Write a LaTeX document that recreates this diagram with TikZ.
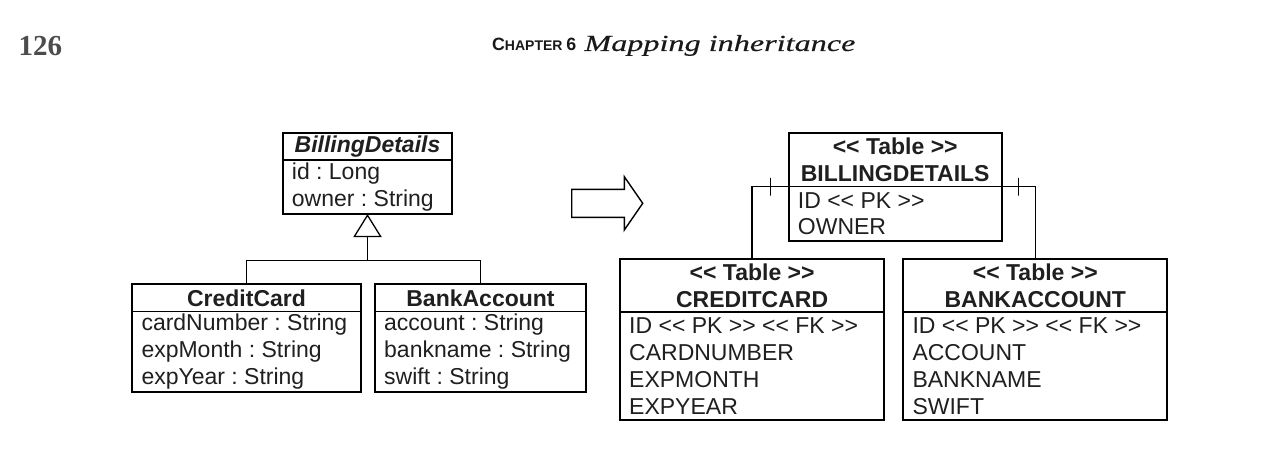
\documentclass[tikz,border=0pt]{standalone}
\usepackage{fontspec}
\setmainfont{Liberation Sans}[Ligatures=TeXOff]
\newfontfamily\folio{Liberation Serif}
\newfontfamily\runtitle[FakeStretch=1.4,FakeBold=0.4]{Liberation Serif}
\usepackage{tikz}
\usetikzlibrary{arrows.meta,positioning,calc}
\frenchspacing

\begin{document}
\begin{tikzpicture}[x=0.5pt,y=-0.5pt,>=Stealth,
  hd/.style={draw,line width=0.65pt,anchor=north west,inner sep=0pt,outer sep=0pt,align=center,
    text=black!88,font=\fontsize{11.5}{13.4}\selectfont\bfseries},
  bd/.style={anchor=north west,inner xsep=4.6pt,inner ysep=0pt,outer sep=0pt,align=left,
    text=black!88,font=\fontsize{11.5}{13.4}\selectfont},
  frame/.style={line width=1pt},
  conn/.style={line width=0.7pt},
  tick/.style={draw,line width=0.5pt,inner sep=0pt,outer sep=0pt,minimum width=0pt,minimum height=8.9pt},
  gen/.style={line width=0.65pt,-{Triangle[open,length=11.6pt,width=14.2pt]}}]
  \useasboundingbox (0,0) rectangle (1278,449);
  % running head
  \node[anchor=base west,inner sep=0pt,text=black!70,font=\folio\bfseries\fontsize{14.5}{16}\selectfont](folio) at (18.3,56){126};
  \node[anchor=base west,inner sep=0pt,text=black!90,font=\bfseries](chap) at (491.7,51){\fontsize{8.9}{10}\selectfont C\fontsize{7}{8}\selectfont HAPTER \fontsize{8.9}{10}\selectfont 6};
  \node[anchor=base west,inner sep=0pt,text=black!90,font=\runtitle\itshape\fontsize{11.5}{13}\selectfont](runhead) at (584,51){Mapping inheritance};
  % class diagram
  \begin{scope}
   \node[hd,minimum width=84.8pt,minimum height=13.65pt](lbdh) at (282.7,132.7){\textit{BillingDetails}};
   \node[bd,minimum height=27pt](lbdb) at (lbdh.south west){id : Long\\owner : String};
   \draw[frame](lbdh.north west) rectangle (lbdh.east |- lbdb.south);
   \node[hd,minimum width=114.2pt,minimum height=13.7pt](lcch) at (132.3,284.3){CreditCard};
   \node[bd,minimum height=40pt](lccb) at (lcch.south west){cardNumber : String\\expMonth : String\\expYear : String};
   \draw[frame](lcch.north west) rectangle (lcch.east |- lccb.south);
   \node[hd,minimum width=105.5pt,minimum height=13.7pt](lbah) at (375,284.3){BankAccount};
   \node[bd,minimum height=40pt](lbab) at (lbah.south west){account : String\\bankname : String\\swift : String};
   \draw[frame](lbah.north west) rectangle (lbah.east |- lbab.south);
   \coordinate(jn) at (lbdh.south |- 0,260.7);
   \draw[conn](lcch.north) |- (jn) -| (lbah.north);
   \draw[gen](jn) -- (lbdh.south |- lbdb.south);
  \end{scope}
  % mapping arrow
  \draw[conn](571.7,189.3) -- (624.3,189.3) -- (624.3,176.7) -- (642.7,203.3) -- (624.3,230) -- (624.3,217.3) -- (571.7,217.3) -- cycle;
  % tables
  \begin{scope}
   \node[hd,minimum width=106.5pt,minimum height=27pt](rbdh) at (788.7,132.7){<< Table >>\\BILLINGDETAILS};
   \node[bd,minimum height=27pt](rbdb) at (rbdh.south west){ID << PK >>\\OWNER};
   \draw[frame](rbdh.north west) rectangle (rbdh.east |- rbdb.south);
   \node[hd,minimum width=132.15pt,minimum height=26.35pt](rcch) at (620,259.3){<< Table >>\\CREDITCARD};
   \node[bd,minimum height=54pt](rccb) at (rcch.south west){ID << PK >> << FK >>\\CARDNUMBER\\EXPMONTH\\EXPYEAR};
   \draw[frame](rcch.north west) rectangle (rcch.east |- rccb.south);
   \node[hd,minimum width=132pt,minimum height=26.35pt](rbah) at (903.3,259.3){<< Table >>\\BANKACCOUNT};
   \node[bd,minimum height=54pt](rbab) at (rbah.south west){ID << PK >> << FK >>\\ACCOUNT\\BANKNAME\\SWIFT};
   \draw[frame](rbah.north west) rectangle (rbah.east |- rbab.south);
   \draw[conn](rbdh.south west) -- node[tick]{} (rbdh.south west -| rcch.north) -- (rcch.north);
   \draw[conn](rbdh.south east) -- node[tick]{} (rbdh.south east -| rbah.north) -- (rbah.north);
  \end{scope}
\end{tikzpicture}
\end{document}
